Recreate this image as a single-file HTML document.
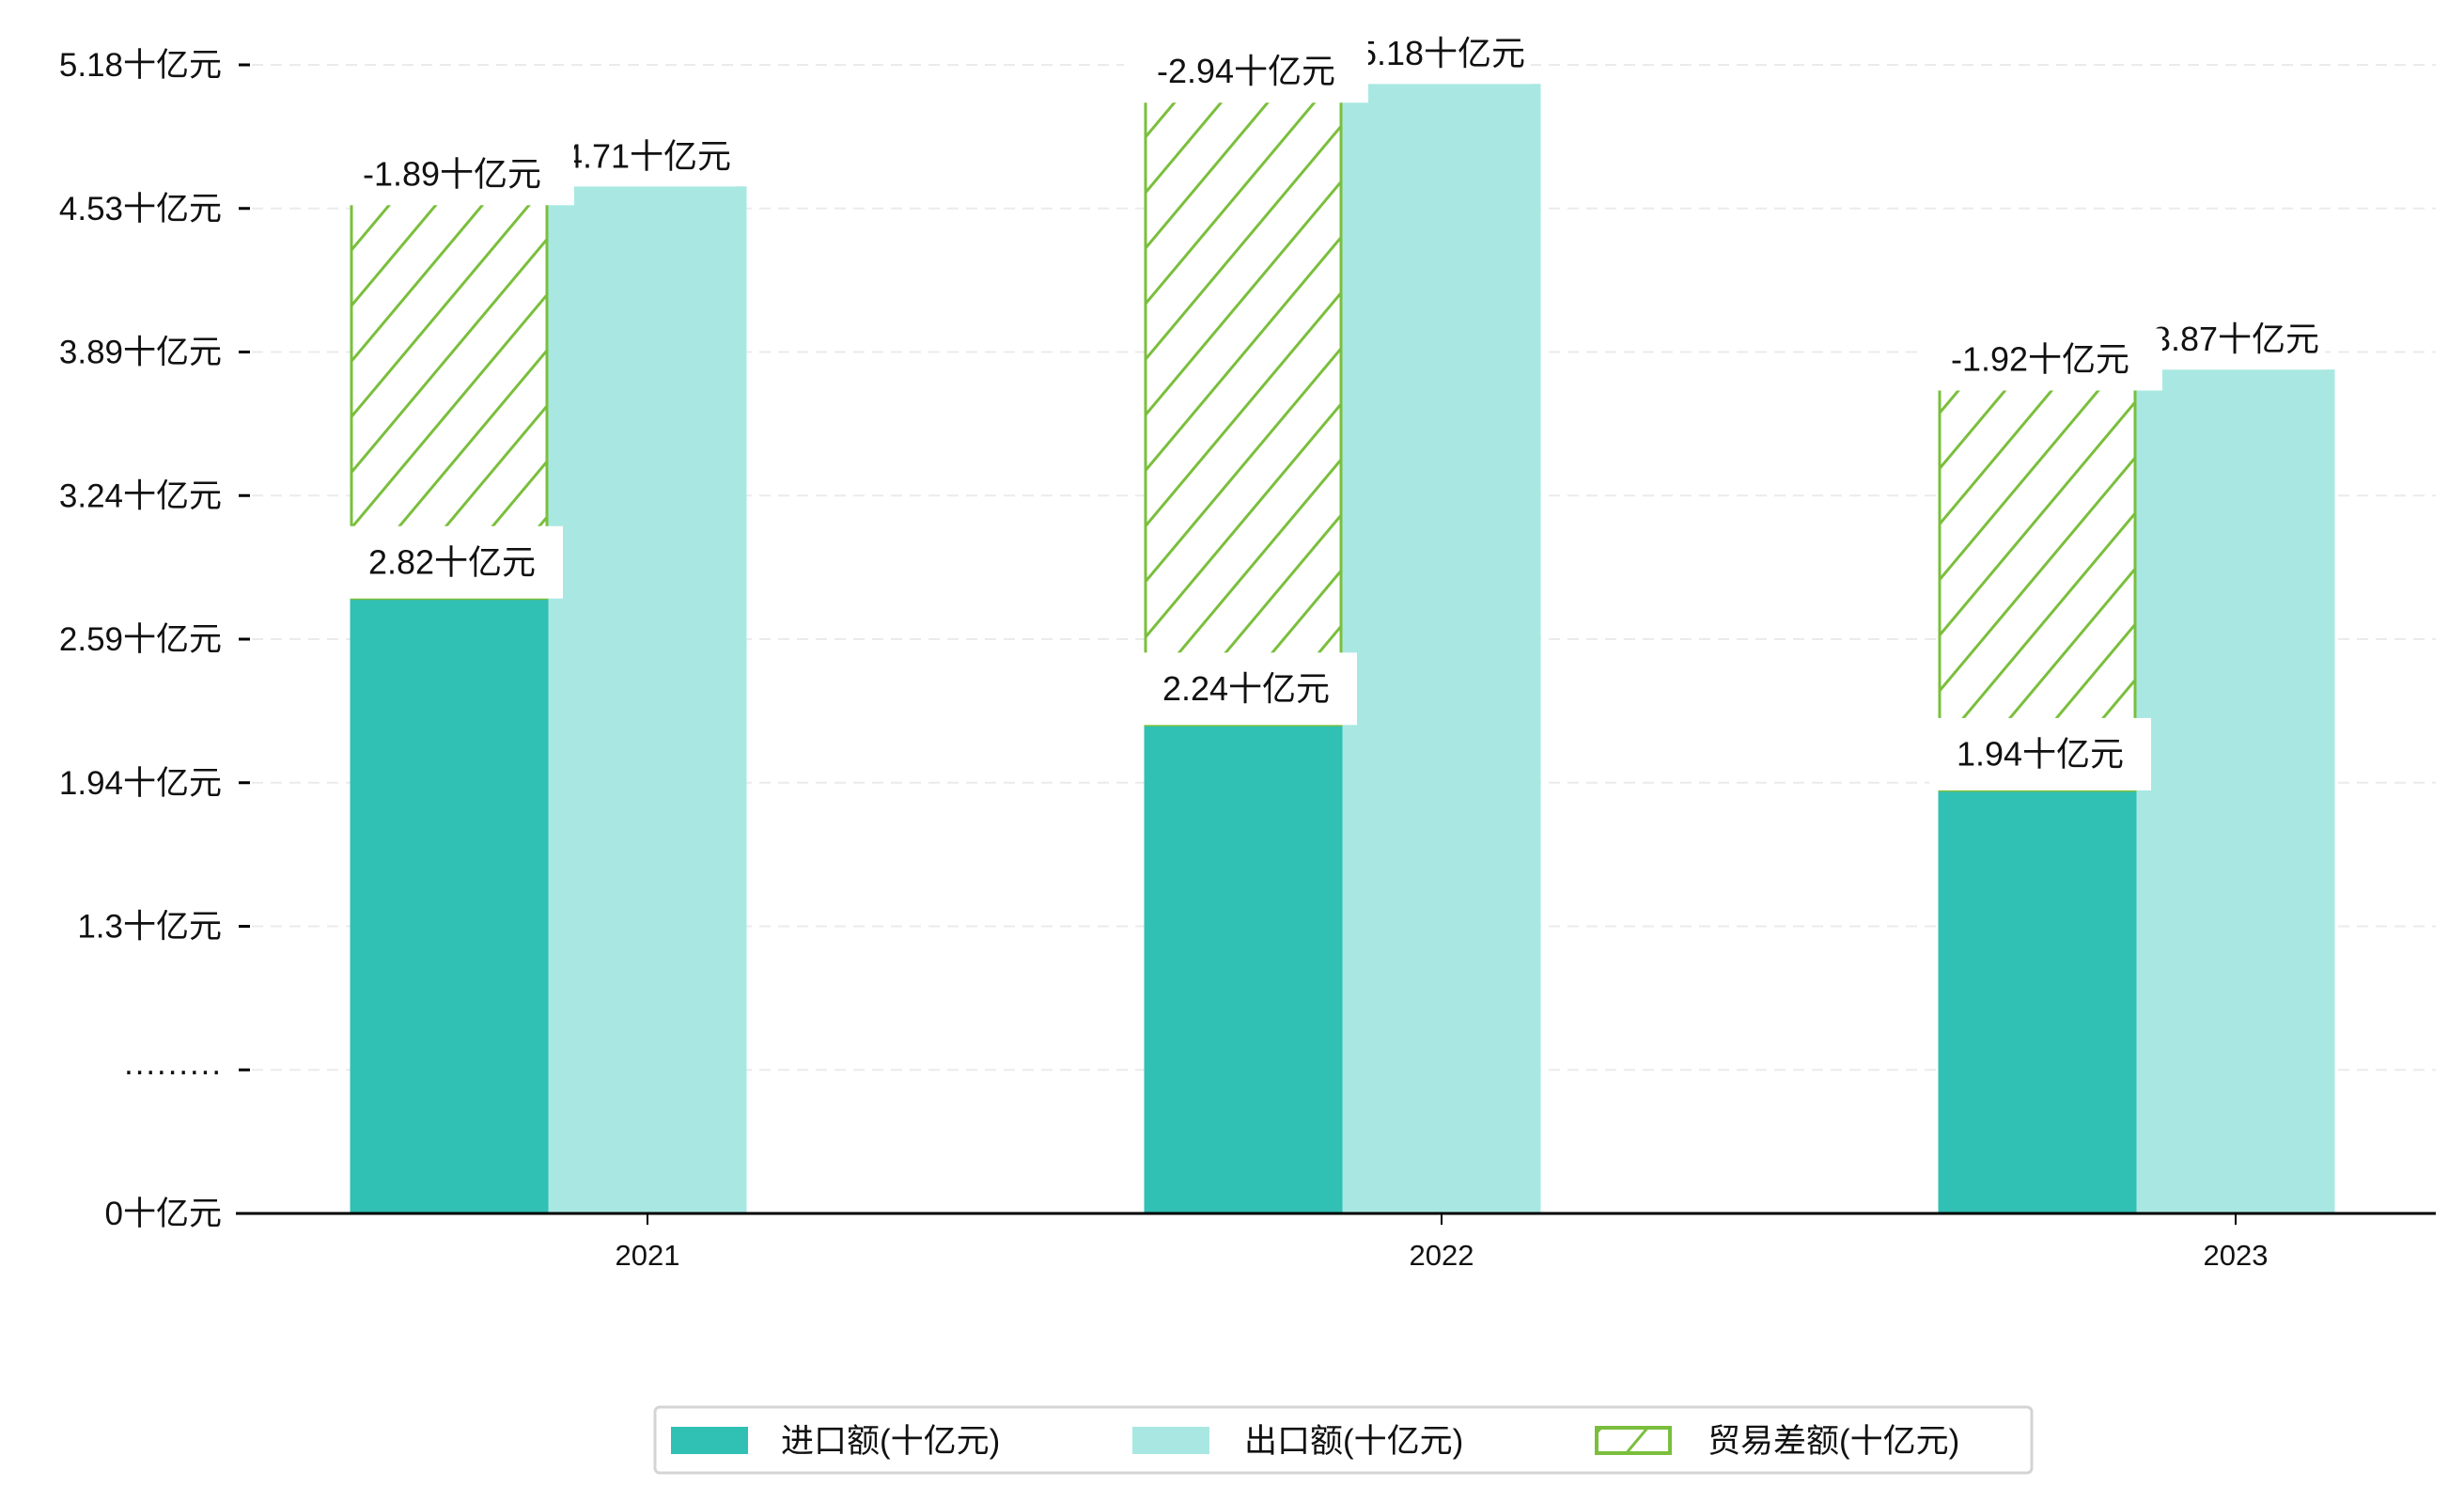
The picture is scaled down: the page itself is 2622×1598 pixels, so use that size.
<!DOCTYPE html>
<html><head><meta charset="utf-8"><style>
html,body{margin:0;padding:0;background:#fff;}
svg{display:block;font-family:"Liberation Sans","Noto Sans CJK SC",sans-serif;}
</style></head><body>
<svg id="chart" width="2622" height="1598" viewBox="0 0 2622 1598" xmlns="http://www.w3.org/2000/svg">
<defs>
<pattern id="hatch" patternUnits="userSpaceOnUse" width="38" height="38" patternTransform="rotate(40)">
<rect width="38" height="38" fill="#fff"/>
<line x1="0" y1="0" x2="0" y2="38" stroke="#7abf3c" stroke-width="6"/>
</pattern>
</defs>
<g id="grid"></g>
<g id="bars"></g>
<g id="labels"></g>
<g id="axes"></g>
<g>
<rect x="697" y="1497" width="1465" height="70" rx="5" fill="#fff" stroke="#d4d4d4" stroke-width="3"/>
<rect x="714" y="1518" width="82" height="29" fill="#30c0b4"/>
<text x="831" y="1545" font-size="35" fill="#111">进口额(十亿元)</text>
<rect x="1205" y="1518" width="82" height="29" fill="#a9e8e2"/>
<text x="1324" y="1545" font-size="35" fill="#111">出口额(十亿元)</text>
<rect x="1699" y="1519" width="78" height="27" fill="url(#hatch)" stroke="#7abf3c" stroke-width="4"/>
<text x="1817" y="1545" font-size="35" fill="#111">贸易差额(十亿元)</text>
</g>
</svg>
<script>
const categories = ["2021", "2022", "2023"];
const importValues = [2.82, 2.24, 1.94];
const exportValues = [4.71, 5.18, 3.87];
const balanceValues = [-1.89, -2.94, -1.92];
const tickLabels = ["0十亿元", "·········", "1.3十亿元", "1.94十亿元", "2.59十亿元", "3.24十亿元", "3.89十亿元", "4.53十亿元", "5.18十亿元"];

const NS = "http://www.w3.org/2000/svg";
const baseY = 1291, unit = 232;
const xLeft = 251, xRight = 2592;
const groupW = 845, firstCenter = 689, barW = 211;
function y(v){ return baseY - v*unit; }
function xc(i){ return firstCenter + i*groupW; }
function tickY(i){ return baseY - i*(baseY-69)/(tickLabels.length-1); }
function mk(tag, attrs, parent){
  const e = document.createElementNS(NS, tag);
  for (const k in attrs) e.setAttribute(k, attrs[k]);
  parent.appendChild(e); return e;
}
const grid = document.getElementById('grid');
const bars = document.getElementById('bars');
const labels = document.getElementById('labels');
const axes = document.getElementById('axes');

tickLabels.forEach((t,i)=>{
  const ty = tickY(i);
  if (i>0){
    const g = mk('line',{x1:268,x2:xRight,y1:ty,y2:ty,stroke:'#ebebeb','stroke-width':2,'stroke-dasharray':'12,8'},grid);
    
    
  }
  const tk = mk('line',{x1:254,x2:266,y1:ty,y2:ty,stroke:'#000','stroke-width':3},axes);
  
  
  const tx = mk('text',{x:236,y:ty+12,'font-size':35,'text-anchor':'end',fill:'#111'},axes);
  tx.textContent = t;
  
  
});
const ax = mk('line',{x1:xLeft,x2:xRight,y1:baseY,y2:baseY,stroke:'#000','stroke-width':3},axes);



function box(cx, bottom, w, h, text, name){
  const r = mk('rect',{x:cx-w/2,y:bottom-h,width:w,height:h,fill:'#fff'},labels);
  
  
  const t = mk('text',{x:cx,y:bottom-h/2+12,'font-size':36,'text-anchor':'middle',fill:'#111'},labels);
  t.textContent = text;
  
  
}

categories.forEach((c,i)=>{
  const cx = xc(i);
  const ix = cx - 1.5*barW, ex = cx - 0.5*barW;
  const bi = mk('rect',{x:ix,y:y(importValues[i]),width:barW,height:baseY-y(importValues[i]),fill:'#30c0b4'},bars);
  
  
  const be = mk('rect',{x:ex,y:y(exportValues[i]),width:barW,height:baseY-y(exportValues[i]),fill:'#a9e8e2'},bars);
  
  
  const top = importValues[i] + Math.abs(balanceValues[i]);
  const bh = mk('rect',{x:ix+1.5,y:y(top),width:barW-3,height:y(importValues[i])-y(top),fill:'url(#hatch)',stroke:'#7abf3c','stroke-width':3},bars);
  
  
  const tk = mk('line',{x1:cx,x2:cx,y1:baseY,y2:baseY+12,stroke:'#000','stroke-width':2},axes);
  
  
  const xt = mk('text',{x:cx,y:1346,'font-size':31,'text-anchor':'middle',fill:'#111'},axes);
  xt.textContent = c;
  
  

  box(ex+barW/2, y(exportValues[i]), 190, 64, exportValues[i].toFixed(2)+'十亿元', 'label-export-'+c);
  box(ix+barW/2+3, y(top)+20, 260, 66, balanceValues[i].toFixed(2)+'十亿元', 'label-balance-'+c);
  box(ix+barW/2+3, y(importValues[i]), 236, 77, importValues[i].toFixed(2)+'十亿元', 'label-import-'+c);
});
</script>
</body></html>
